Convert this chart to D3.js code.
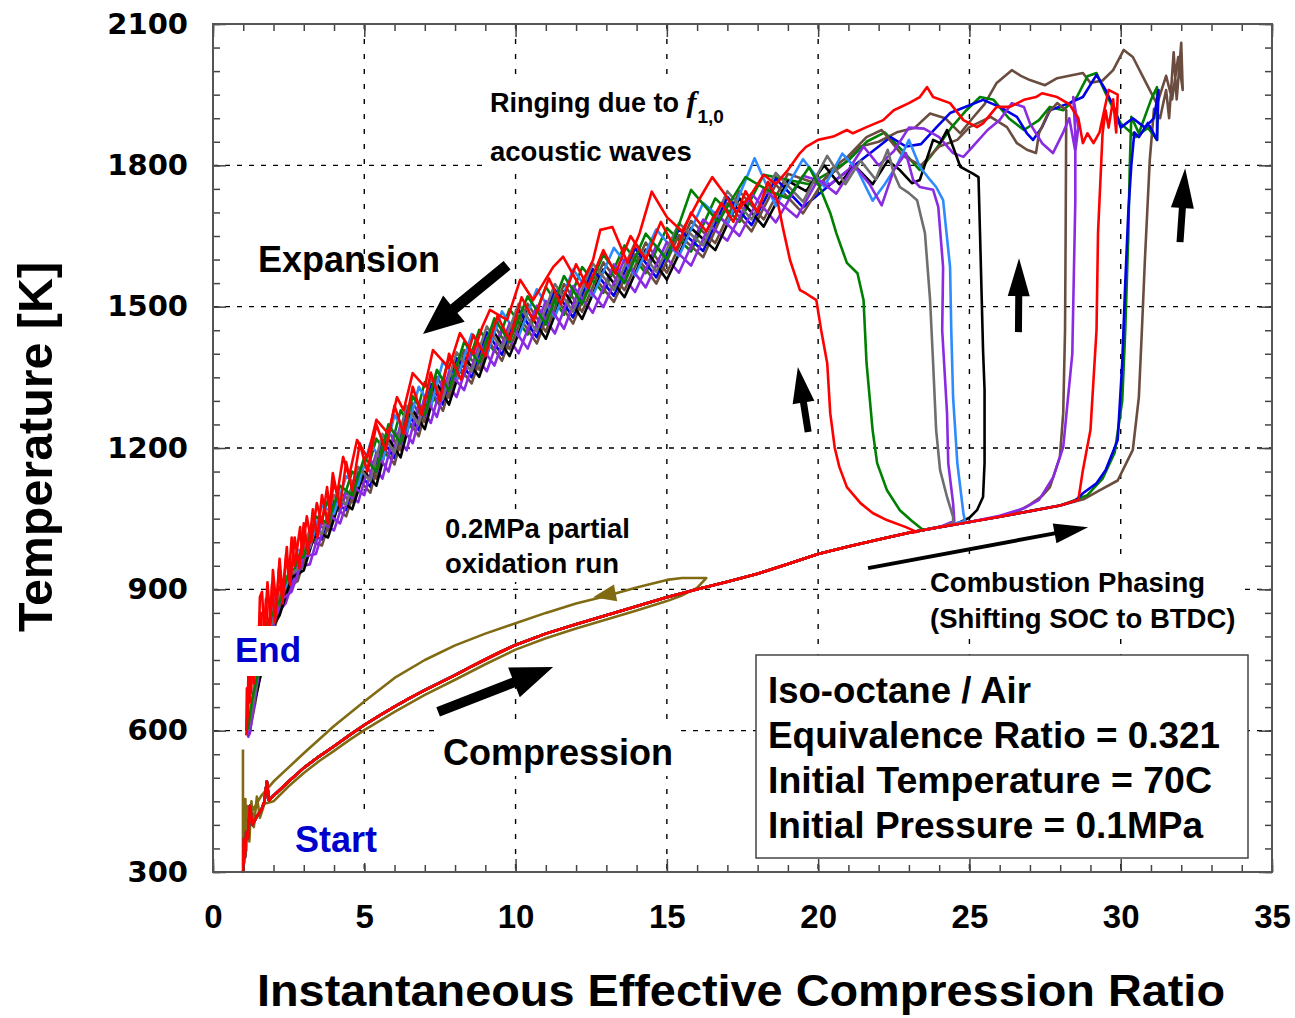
<!DOCTYPE html>
<html>
<head>
<meta charset="utf-8">
<title>Temperature vs Instantaneous Effective Compression Ratio</title>
<script src="https://cdn.jsdelivr.net/npm/d3@7/dist/d3.min.js"></script>
<style>
  body { margin: 0; background: #fff; }
  svg { display: block; }
  text { font-family: "Liberation Sans", Arial, sans-serif; font-weight: bold; }
</style>
</head>
<body>
<div id="chart-area"></div>
<script>
// tick labels
var xTicks = [0, 5, 10, 15, 20, 25, 30, 35];
var yTicks = [300, 600, 900, 1200, 1500, 1800, 2100];

// [compression ratio, temperature K]
// shared compression stroke, every run follows it until its first own point
var compression = [[1.0,300],[1.02,370],[1.05,330],[1.1,385],[1.16,372],[1.22,440],[1.3,400],[1.45,418],[1.6,432],[1.7,450],[1.78,492],[1.85,452],[2.0,462],[2.5,492],[3.0,521],[3.5,545],[4.0,567],[4.5,590],[5.0,612],[5.5,632],[6.0,651],[6.5,669],[7.0,686],[7.5,702],[8.0,718],[8.5,735],[9.0,751],[9.5,767],[10,782],[11,806],[12,826],[13,845],[14,864],[15,883],[16,900],[17,916],[18,933],[19,954],[20,975],[21,991],[22,1006],[23,1020],[24,1032],[25,1043],[26,1054],[27,1066],[28,1078],[29,1090],[30,1102],[31,1114]];

// 0.2MPa partial oxidation run (complete loop)
var partialOxidation = [[0.99,560],[0.99,300],[1.02,440],[1.04,320],[1.07,455],[1.1,345],[1.14,440],[1.2,365],[1.27,450],[1.35,395],[1.45,460],[1.55,415],[1.7,445],[2.0,450],[2.5,482],[3.0,510],[3.5,535],[4.0,557],[4.5,580],[5.0,601],[6.0,640],[7.0,676],[8.0,708],[9.0,741],[10,772],[11,796],[12,817],[13,836],[14,855],[15,875],[15.5,887],[16.0,903],[16.3,924],[15.5,924],[15.0,920],[14.0,904],[13.0,886],[12.0,870],[11.0,850],[10.0,828],[9.0,806],[8.0,781],[7.0,750],[6.0,712],[5.0,662],[4.0,610],[3.0,552],[2.5,522],[2.0,492],[1.6,462],[1.3,430],[1.15,408],[1.05,392],[1.0,380]];

// combustion + expansion of each run
var red1 = [[23.25,1022],[22.9,1032],[22.27,1047],[21.8,1062],[21.4,1083],[20.95,1117],[20.7,1160],[20.55,1200],[20.4,1274],[20.3,1380],[20.1,1450],[19.94,1514],[19.6,1528],[19.4,1535],[19.07,1599],[18.85,1663],[18.65,1726],[18.34,1765],
  [18.0,1700],[17.6,1745],[17.2,1680],[16.8,1720],[16.3,1660],[15.8,1700],[15.3,1620],[14.8,1680],[14.3,1600],[13.8,1650],[13.3,1570],[12.9,1620],[12.4,1540],[12.0,1590],[11.5,1505],[11.1,1560],[10.6,1470],[10.2,1520],[9.8,1430],[9.4,1480],[9.0,1395],[8.6,1440],[8.2,1345],[7.8,1400],[7.5,1300],[7.2,1360],[6.9,1270],[6.6,1330],[6.3,1230],[6.0,1290],[5.7,1195],[5.4,1250],[5.1,1150],[4.85,1210],[4.6,1110],[4.4,1170],[4.2,1075],[4.0,1130],[3.8,1040],[3.6,1100],[3.45,1010],[3.3,1070],[3.15,975],[3.0,1040],[2.85,945],[2.7,1010],[2.55,910],[2.42,975],[2.3,870],[2.18,945],[2.05,830],[1.95,910],[1.85,790],[1.75,880],[1.65,760],[1.58,850],[1.5,730],[1.42,810],[1.35,700],[1.28,770],[1.22,660],[1.17,720],[1.13,620],[1.1,590]];

var green1 = [[23.47,1026],[23.1,1045],[22.7,1068],[22.27,1111],[21.95,1168],[21.8,1238],[21.6,1380],[21.5,1514],[21.3,1571],[20.95,1593],[20.6,1656],[20.4,1699],[20.05,1754],[19.7,1796],
  [19.0,1730],[18.4,1745],[17.6,1775],[16.7,1680],[15.8,1748],[15.0,1600],[14.3,1655],[13.6,1550],[12.9,1610],[12.2,1505],[11.6,1565],[11.0,1462],[10.4,1522],[9.8,1425],[9.3,1475],[8.8,1380],[8.3,1425],[7.8,1322],[7.4,1366],[7.0,1270],[6.6,1310],[6.2,1210],[5.8,1250],[5.4,1150],[5.0,1180],[4.6,1100],[4.2,1120],[3.8,1040],[3.4,1055],[3.0,970],[2.6,955],[2.2,875],[1.8,830],[1.5,725],[1.3,668],[1.15,602]];

var gray1 = [[24.46,1040],[24.46,1054],[24.26,1096],[24.03,1153],[23.9,1238],[23.8,1380],[23.7,1514],[23.53,1656],[23.27,1726],[23.0,1741],[22.7,1754],[22.5,1783],[22.3,1833],[21.9,1770],[21.4,1810],[20.9,1760],[20.3,1820],[19.5,1723],
  [18.6,1784],[17.8,1685],[17.0,1745],[16.2,1630],[15.4,1677],[14.65,1574],[13.95,1636],[13.25,1535],[12.55,1592],[11.9,1489],[11.3,1548],[10.7,1447],[10.1,1506],[9.55,1410],[9.05,1458],[8.55,1362],[8.05,1403],[7.6,1304],[7.2,1348],[6.8,1250],[6.4,1290],[6.0,1190],[5.6,1230],[5.2,1130],[4.8,1160],[4.4,1080],[4.0,1100],[3.6,1018],[3.2,1028],[2.8,943],[2.4,925],[2.0,835],[1.65,785],[1.4,685],[1.22,625],[1.15,600]];

var purple1 = [[24.5,1045],[24.46,1083],[24.3,1168],[24.26,1274],[24.1,1450],[24.13,1584],[23.97,1712],[23.8,1748],[23.36,1754],[23.14,1769],[22.9,1826],[22.5,1790],[22.1,1715],[21.7,1760],[21.2,1800],[20.6,1740],[20.0,1770],[19.3,1690],
  [18.2,1750],[17.4,1650],[16.6,1700],[15.8,1587],[15.0,1637],[14.3,1541],[13.6,1600],[12.9,1499],[12.2,1554],[11.6,1453],[11.0,1512],[10.4,1411],[9.8,1465],[9.3,1375],[8.8,1421],[8.3,1323],[7.8,1362],[7.4,1266],[7.0,1310],[6.6,1210],[6.2,1250],[5.8,1150],[5.4,1190],[5.0,1100],[4.6,1120],[4.2,1040],[3.8,1060],[3.4,975],[3.0,970],[2.6,895],[2.2,875],[1.8,770],[1.5,715],[1.3,630],[1.15,590]];

var dodger1 = [[24.85,1045],[24.8,1062],[24.6,1168],[24.46,1308],[24.4,1450],[24.36,1584],[24.13,1726],[23.9,1754],[23.7,1769],[23.36,1797],[23.0,1854],[22.6,1800],[22.2,1760],[21.8,1725],[21.3,1790],[20.8,1825],[20.2,1755],[19.5,1813],
  [18.6,1714],[17.9,1815],[17.0,1675],[16.2,1720],[15.4,1607],[14.65,1664],[13.95,1566],[13.25,1625],[12.55,1522],[11.9,1579],[11.3,1478],[10.7,1537],[10.1,1436],[9.55,1490],[9.05,1398],[8.55,1442],[8.05,1343],[7.6,1384],[7.2,1288],[6.8,1330],[6.4,1230],[6.0,1270],[5.6,1170],[5.2,1210],[4.8,1120],[4.4,1140],[4.0,1060],[3.6,1078],[3.2,988],[2.8,983],[2.4,905],[2.0,875],[1.65,765],[1.4,715],[1.22,625],[1.15,605]];

var black1 = [[24.6,1040],[25.0,1052],[25.25,1068],[25.45,1096],[25.5,1168],[25.5,1323],[25.45,1408],[25.35,1656],[25.3,1775],[25.1,1783],[24.9,1790],[24.7,1797],[24.46,1839],[24.26,1875],[24.03,1847],[23.8,1854],[23.36,1769],[23.1,1762],[22.7,1790],[22.3,1810],[21.8,1760],[21.2,1800],[20.7,1760],[20.2,1800],[19.6,1745],
  [19.0,1767],[18.2,1670],[17.4,1730],[16.6,1620],[15.8,1667],[15.0,1557],[14.3,1621],[13.6,1520],[12.9,1579],[12.2,1474],[11.6,1533],[11.0,1432],[10.4,1491],[9.8,1395],[9.3,1445],[8.8,1351],[8.3,1393],[7.8,1292],[7.4,1336],[7.0,1240],[6.6,1280],[6.2,1180],[5.8,1220],[5.4,1120],[5.0,1150],[4.6,1070],[4.2,1090],[3.8,1010],[3.4,1025],[3.0,940],[2.6,925],[2.2,845],[1.8,800],[1.5,695],[1.3,640],[1.15,590]];

var brown1 = [[26.5,1062],[27.0,1080],[27.4,1098],[27.66,1117],[27.99,1181],[28.1,1274],[28.16,1450],[28.18,1656],[28.2,1917],[27.9,1932],[27.6,1911],[27.3,1868],[27.2,1826],[26.9,1833],[26.57,1847],[26.24,1881],[25.7,1903],[25.0,1881],[24.6,1854],[24.0,1840],[23.4,1800],[22.8,1820],[22.1,1875],[21.6,1860],[21.0,1820],[20.4,1790],[19.5,1698],
  [18.6,1759],[17.8,1660],[17.0,1720],[16.2,1605],[15.4,1652],[14.65,1549],[13.95,1611],[13.25,1510],[12.55,1567],[11.9,1464],[11.3,1523],[10.7,1422],[10.1,1481],[9.55,1385],[9.05,1433],[8.55,1337],[8.05,1378],[7.6,1279],[7.2,1323],[6.8,1225],[6.4,1265],[6.0,1165],[5.6,1205],[5.2,1105],[4.8,1135],[4.4,1055],[4.0,1075],[3.6,993],[3.2,1003],[2.8,918],[2.4,900],[2.0,810],[1.65,760],[1.4,660],[1.22,600],[1.15,590]];

var purple2 = [[26.0,1056],[26.8,1072],[27.3,1090],[27.77,1138],[28.1,1202],[28.26,1308],[28.4,1400],[28.43,1500],[28.5,1726],[28.5,1868],[28.43,1945],[28.6,1880],[28.5,1830],[28.3,1900],[28.1,1870],[27.76,1826],[27.4,1847],[27.2,1868],[27.0,1889],[26.8,1924],[26.4,1932],[26.0,1896],[25.6,1875],[25.1,1839],[24.8,1818],[24.46,1826],[24.0,1860],[23.5,1878],[23.0,1880],[22.5,1830],[22.0,1800],[21.5,1840],[21.0,1790],[20.4,1760],[19.5,1778],
  [18.6,1679],[17.8,1740],[17.0,1640],[16.2,1685],[15.4,1572],[14.65,1629],[13.95,1531],[13.25,1590],[12.55,1487],[11.9,1544],[11.3,1443],[10.7,1502],[10.1,1401],[9.55,1455],[9.05,1363],[8.55,1407],[8.05,1308],[7.6,1349],[7.2,1253],[6.8,1295],[6.4,1195],[6.0,1235],[5.6,1135],[5.2,1175],[4.8,1085],[4.4,1105],[4.0,1025],[3.6,1043],[3.2,953],[2.8,948],[2.4,870],[2.0,840],[1.65,730],[1.4,680],[1.22,595],[1.15,585]];

var red2 = [[28.6,1090],[28.75,1153],[29.0,1238],[29.1,1344],[29.2,1450],[29.25,1656],[29.4,1868],[29.5,1917],[29.6,1880],[29.75,1940],[29.85,1870],[29.9,1950],[29.6,1960],[29.4,1900],[29.3,1870],[29.1,1847],[28.9,1868],[28.75,1847],[28.6,1900],[28.3,1930],[27.9,1945],[27.4,1953],[27.2,1945],[26.8,1939],[26.34,1924],[25.9,1924],[25.45,1889],[25.25,1881],[24.8,1896],[24.36,1932],[23.8,1945],[23.6,1966],[23.36,1945],[23.0,1932],[22.5,1917],[22.15,1896],[21.6,1881],[21.15,1868],[20.95,1875],[20.5,1861],[20.0,1854],[19.6,1839],[19.4,1826],
  [19.0,1790],[18.6,1760],[18.2,1780],[17.8,1740],[17.3,1700],[16.9,1740],[16.5,1775],[16.0,1720],[15.5,1660],[15.0,1690],[14.5,1744],[14.1,1656],[13.7,1593],[13.2,1669],[12.8,1663],[12.56,1599],[12.13,1542],[11.57,1606],[11.24,1584],[10.58,1514],[10.15,1557],[9.72,1472],[9.15,1493],[8.9,1457],[8.6,1400],[8.16,1444],[7.8,1370],[7.27,1408],[7.0,1330],[6.6,1359],[6.3,1280],[6.08,1308],[5.8,1230],[5.4,1260],[5.1,1180],[4.76,1217],[4.5,1140],[4.3,1181],[4.1,1100],[3.96,1147],[3.85,1070],[3.77,1117],[3.6,1040],[3.43,1083],[3.25,1000],[3.1,1055],[2.95,975],[2.88,1032],[2.7,950],[2.6,1010],[2.5,920],[2.44,990],[2.3,890],[2.2,965],[2.1,860],[1.98,941],[1.9,830],[1.8,915],[1.7,800],[1.62,895],[1.55,884],[1.5,760],[1.45,820],[1.38,720],[1.32,790],[1.26,680],[1.2,740],[1.16,630],[1.12,690],[1.1,600]];

var green2 = [[28.3,1085],[28.9,1100],[29.4,1135],[29.8,1190],[30.05,1300],[30.15,1450],[30.25,1650],[30.3,1800],[30.35,1903],[30.6,1868],[31.0,1939],[31.2,1966],[31.2,1854],[30.9,1880],[30.5,1860],[30.0,1889],[29.5,1953],[29.2,1996],[28.9,1989],[28.55,1945],[28.1,1917],[27.66,1924],[27.3,1896],[26.8,1875],[26.3,1900],[25.8,1939],[25.35,1945],[24.9,1917],[24.4,1880],[23.8,1826],[23.36,1790],[22.8,1830],[22.2,1870],[21.6,1850],[21.0,1810],[20.5,1790],[19.7,1760],
  [18.2,1780],[17.4,1680],[16.6,1730],[15.8,1617],[15.0,1667],[14.3,1571],[13.6,1630],[12.9,1529],[12.2,1584],[11.6,1483],[11.0,1542],[10.4,1441],[9.8,1495],[9.3,1405],[8.8,1451],[8.3,1353],[7.8,1392],[7.4,1296],[7.0,1340],[6.6,1240],[6.2,1280],[5.8,1180],[5.4,1220],[5.0,1130],[4.6,1150],[4.2,1070],[3.8,1090],[3.4,1005],[3.0,1000],[2.6,925],[2.2,905],[1.8,800],[1.5,745],[1.3,650],[1.15,605]];

var blue2 = [[28.5,1088],[28.75,1104],[29.2,1125],[29.5,1153],[29.9,1217],[30.05,1380],[30.15,1550],[30.25,1700],[30.35,1800],[30.45,1870],[30.6,1860],[30.9,1890],[31.2,1854],[31.25,1960],[31.1,1900],[30.8,1880],[30.4,1900],[30.0,1880],[29.8,1920],[29.5,1960],[29.2,1992],[28.75,1945],[28.3,1932],[27.66,1917],[27.4,1881],[27.1,1854],[26.9,1868],[26.57,1903],[26.0,1924],[25.45,1939],[24.9,1925],[24.36,1911],[23.9,1880],[23.4,1845],[22.9,1840],[22.4,1860],[21.8,1830],[21.2,1800],[20.6,1770],[19.5,1711],
  [18.6,1772],[17.8,1673],[17.0,1733],[16.2,1618],[15.4,1665],[14.65,1562],[13.95,1624],[13.25,1523],[12.55,1580],[11.9,1477],[11.3,1536],[10.7,1435],[10.1,1494],[9.55,1398],[9.05,1446],[8.55,1350],[8.05,1391],[7.6,1292],[7.2,1336],[6.8,1238],[6.4,1278],[6.0,1178],[5.6,1218],[5.2,1118],[4.8,1148],[4.4,1068],[4.0,1088],[3.6,1006],[3.2,1016],[2.8,931],[2.4,913],[2.0,823],[1.65,773],[1.4,673],[1.22,613],[1.15,595]];

var brown2 = [[28.8,1092],[29.3,1110],[29.9,1131],[30.4,1196],[30.6,1308],[30.7,1450],[30.8,1600],[30.96,1811],[31.1,1920],[31.3,1900],[31.5,1960],[31.6,1900],[31.75,2040],[31.85,1940],[32.0,2060],[32.05,1960],[31.9,2030],[31.7,1940],[31.5,1990],[31.2,1930],[30.8,1980],[30.4,2030],[30.1,2045],[29.75,2002],[29.4,1980],[29.0,1975],[28.75,1996],[28.3,1990],[27.9,1985],[27.5,1970],[27.0,1981],[26.7,1990],[26.4,2002],[25.9,1975],[25.5,1930],[25.1,1900],[24.7,1868],[24.2,1900],[23.7,1910],[23.2,1880],[22.6,1870],[22.0,1850],[21.4,1840],[20.8,1800],[20.0,1760],
  [19.0,1782],[18.2,1685],[17.4,1745],[16.6,1635],[15.8,1682],[15.0,1572],[14.3,1636],[13.6,1535],[12.9,1594],[12.2,1489],[11.6,1548],[11.0,1447],[10.4,1506],[9.8,1410],[9.3,1460],[8.8,1366],[8.3,1408],[7.8,1307],[7.4,1351],[7.0,1255],[6.6,1295],[6.2,1195],[5.8,1235],[5.4,1135],[5.0,1165],[4.6,1085],[4.2,1105],[3.8,1025],[3.4,1040],[3.0,955],[2.6,940],[2.2,860],[1.8,815],[1.5,710],[1.3,655],[1.15,595]];

// draw order, bottom first
var runs = [
  { name: "partialOxidation", points: partialOxidation, own: true },
  { name: "brown2", points: brown2 },
  { name: "green2", points: green2 },
  { name: "blue2", points: blue2 },
  { name: "brown1", points: brown1 },
  { name: "purple2", points: purple2 },
  { name: "black1", points: black1 },
  { name: "dodger1", points: dodger1 },
  { name: "purple1", points: purple1 },
  { name: "gray1", points: gray1 },
  { name: "green1", points: green1 },
  { name: "red2", points: red2 },
  { name: "red1", points: red1 }
];

var runColor = {
  partialOxidation: "#806b12", brown2: "#6b4d40", green2: "#008000", blue2: "#0000e6",
  brown1: "#6b4d40", purple2: "#8a2be2", black1: "#000000", dodger1: "#2e8bff",
  purple1: "#8a2be2", gray1: "#6e6e6e", green1: "#008000", red2: "#ff0000", red1: "#ff0000"
};

var margin = { left: 213, right: 23, top: 24, bottom: 146 },
    width = 1295 - margin.left - margin.right,
    height = 1018 - margin.top - margin.bottom;

var svg = d3.select("#chart-area").append("svg")
    .attr("width", width + margin.left + margin.right)
    .attr("height", height + margin.top + margin.bottom);

var g = svg.append("g")
    .attr("transform", "translate(" + margin.left + "," + margin.top + ")");

var x = d3.scaleLinear().domain([0, 35]).range([0, width]);
var y = d3.scaleLinear().domain([300, 2100]).range([height, 0]);

// Grid
var grid = g.append("g");
grid.selectAll(".vgrid").data(xTicks.slice(1, -1)).join("line")
    .attr("class", "vgrid")
    .attr("x1", d => x(d)).attr("x2", d => x(d))
    .attr("y1", 0).attr("y2", height)
    .attr("stroke", "#000").attr("stroke-width", 1.4)
    .attr("stroke-dasharray", "5,10");
grid.selectAll(".hgrid").data(yTicks.slice(1, -1)).join("line")
    .attr("class", "hgrid")
    .attr("x1", 0).attr("x2", width)
    .attr("y1", d => y(d)).attr("y2", d => y(d))
    .attr("stroke", "#000").attr("stroke-width", 1.4)
    .attr("stroke-dasharray", "5,7");

var bgLow = svg.append("g");
var lines = g.append("g");
var bgHigh = svg.append("g");
var notesLayer = svg.append("g");

// Lines
var line = d3.line()
    .x(d => x(d[0]))
    .y(d => y(d[1]));

runs.forEach(function(run) {
    var pts = run.own ? run.points
        : compression.filter(p => p[0] < run.points[0][0]).concat(run.points);
    lines.append("path")
        .attr("d", line(pts))
        .attr("fill", "none")
        .attr("stroke", runColor[run.name])
        .attr("stroke-width", 2.6)
        .attr("stroke-linejoin", "round");
});

// Ticks (inward, on all four sides)
function tickAxis(axis, tr) {
    var a = g.append("g").attr("transform", tr).call(axis);
    a.select(".domain").remove();
    a.selectAll("line").attr("stroke", "#444").attr("stroke-width", 1.5);
    return a;
}
var xMinor = d3.range(0, 36, 1), yMinor = d3.range(300, 2101, 50);
tickAxis(d3.axisBottom(x).tickValues(xMinor).tickSize(-7).tickFormat(""), "translate(0," + height + ")");
tickAxis(d3.axisTop(x).tickValues(xMinor).tickSize(-7).tickFormat(""), "translate(0,0)");
tickAxis(d3.axisLeft(y).tickValues(yMinor).tickSize(-7).tickFormat(""), "translate(0,0)");
tickAxis(d3.axisRight(y).tickValues(yMinor).tickSize(-7).tickFormat(""), "translate(" + width + ",0)");
tickAxis(d3.axisBottom(x).tickValues(xTicks).tickSize(-13).tickFormat(""), "translate(0," + height + ")");
tickAxis(d3.axisTop(x).tickValues(xTicks).tickSize(-13).tickFormat(""), "translate(0,0)");
tickAxis(d3.axisLeft(y).tickValues(yTicks).tickSize(-13).tickFormat(""), "translate(0,0)");
tickAxis(d3.axisRight(y).tickValues(yTicks).tickSize(-13).tickFormat(""), "translate(" + width + ",0)");

g.append("rect")
    .attr("width", width).attr("height", height)
    .attr("fill", "none").attr("stroke", "#555").attr("stroke-width", 2);

// Tick labels
var xLab = g.append("g").attr("transform", "translate(0," + height + ")")
    .call(d3.axisBottom(x).tickValues(xTicks).tickSize(0).tickPadding(33).tickFormat(d3.format("d")));
xLab.select(".domain").remove();
xLab.selectAll("text")
    .style("font-family", "'Liberation Sans', Arial, sans-serif")
    .style("font-weight", "bold").style("font-size", "33px").attr("fill", "#000");

var yLab = g.append("g")
    .call(d3.axisLeft(y).tickValues(yTicks).tickSize(0).tickPadding(25).tickFormat(d3.format("d")));
yLab.select(".domain").remove();
yLab.selectAll("text")
    .style("font-family", "'DejaVu Sans', sans-serif")
    .style("font-weight", "bold").style("font-size", "29px").attr("fill", "#000");

// Axis titles
svg.append("text")
    .attr("x", 741).attr("y", 1006)
    .attr("text-anchor", "middle")
    .attr("font-size", 44)
    .attr("textLength", 968).attr("lengthAdjust", "spacingAndGlyphs")
    .text("Instantaneous Effective Compression Ratio");

svg.append("text")
    .attr("transform", "translate(52,447) rotate(-90)")
    .attr("text-anchor", "middle")
    .attr("font-size", 48)
    .attr("textLength", 370).attr("lengthAdjust", "spacingAndGlyphs")
    .text("Temperature  [K]");

// Annotations
var notes = [
    { t: "acoustic waves", x: 490, y: 161, size: 27.5, bg: "ringing" },
    { t: "Expansion", x: 258, y: 272, size: 36 },
    { t: "0.2MPa partial", x: 445, y: 538, size: 27.5, bg: "oxid" },
    { t: "oxidation run", x: 445, y: 573, size: 27.5, bg: "oxid" },
    { t: "Compression", x: 443, y: 765, size: 36, bg: "comp" },
    { t: "Combustion Phasing", x: 930, y: 592, size: 27.5, bg: "phasing" },
    { t: "(Shifting SOC to BTDC)", x: 930, y: 628, size: 27.5, bg: "phasing" },
    { t: "End", x: 235, y: 662, size: 35, color: "#0000cc", bg: "end" },
    { t: "Start", x: 295, y: 852, size: 36, color: "#0000cc", bg: "start" }
];

notes.forEach(function(n) {
    n.node = notesLayer.append("text")
        .attr("x", n.x).attr("y", n.y)
        .attr("font-size", n.size)
        .attr("fill", n.color || "#000")
        .text(n.t).node();
});

var ring = notesLayer.append("text").attr("x", 490).attr("y", 112).attr("font-size", 27);
ring.append("tspan").text("Ringing due to ");
ring.append("tspan")
    .style("font-family", "'Liberation Serif', 'Times New Roman', serif")
    .style("font-style", "italic").attr("font-size", 30).text("f");
ring.append("tspan").attr("font-size", 19).attr("dy", 11).attr("dx", 1).text("1,0");
notes.push({ node: ring.node(), bg: "ringing" });

var pads = { end: [4, 4, 7, 4] };
d3.group(notes.filter(n => n.bg), n => n.bg).forEach(function(arr, key) {
    var x0 = Infinity, y0 = Infinity, x1 = -Infinity, y1 = -Infinity;
    arr.forEach(function(n) {
        var b = n.node.getBBox();
        x0 = Math.min(x0, b.x); y0 = Math.min(y0, b.y);
        x1 = Math.max(x1, b.x + b.width); y1 = Math.max(y1, b.y + b.height);
    });
    var p = pads[key] || [3, 4, 3, 4];
    (key === "end" ? bgHigh : bgLow).append("rect")
        .attr("x", x0 - p[3]).attr("y", y0 - p[0])
        .attr("width", x1 - x0 + p[1] + p[3]).attr("height", y1 - y0 + p[0] + p[2])
        .attr("fill", "#fff");
});

// Condition box
var boxLines = ["Iso-octane / Air", "Equivalence Ratio = 0.321",
                "Initial Temperature = 70C", "Initial Pressure = 0.1MPa"];
var boxWidths = [263, 452, 444, 435];
notesLayer.append("rect")
    .attr("x", 756).attr("y", 655).attr("width", 492).attr("height", 203)
    .attr("fill", "#fff").attr("stroke", "#444").attr("stroke-width", 1.5);
notesLayer.selectAll(".boxline").data(boxLines).join("text")
    .attr("class", "boxline")
    .attr("x", 768).attr("y", (d, i) => 703 + i * 45)
    .attr("font-size", 36)
    .attr("textLength", (d, i) => boxWidths[i]).attr("lengthAdjust", "spacingAndGlyphs")
    .text(d => d);

// Arrows (data coordinates for tail and tip)
var arrows = [
    { from: [9.72, 1588], to: [6.94, 1442], shaft: 11, head: 40, width: 34, color: "#000" },
    { from: [7.44, 640], to: [11.24, 735], shaft: 10, head: 42, width: 32, color: "#000" },
    { from: [19.67, 1234], to: [19.33, 1372], shaft: 7, head: 36, width: 22, color: "#000" },
    { from: [26.62, 1446], to: [26.64, 1603], shaft: 7, head: 38, width: 22, color: "#000" },
    { from: [31.96, 1637], to: [32.13, 1794], shaft: 7, head: 40, width: 23, color: "#000" },
    { from: [21.65, 945], to: [28.92, 1032], shaft: 4, head: 34, width: 20, color: "#000" },
    { from: [13.9, 900], to: [12.56, 883], shaft: 0, head: 23, width: 17, color: "#806b12" }
];

arrows.forEach(function(a) {
    var ax = x(a.from[0]), ay = y(a.from[1]), bx = x(a.to[0]), by = y(a.to[1]);
    var L = Math.hypot(bx - ax, by - ay), ux = (bx - ax) / L, uy = (by - ay) / L;
    var nx = -uy, ny = ux;
    var hx = bx - ux * a.head, hy = by - uy * a.head;
    var s = a.shaft / 2, w = a.width / 2;
    var pts = [
        [ax + nx * s, ay + ny * s], [hx + nx * s, hy + ny * s], [hx + nx * w, hy + ny * w],
        [bx, by],
        [hx - nx * w, hy - ny * w], [hx - nx * s, hy - ny * s], [ax - nx * s, ay - ny * s]
    ];
    g.append("polygon")
        .attr("points", pts.map(p => p.join(",")).join(" "))
        .attr("fill", a.color);
});
</script>
</body>
</html>
